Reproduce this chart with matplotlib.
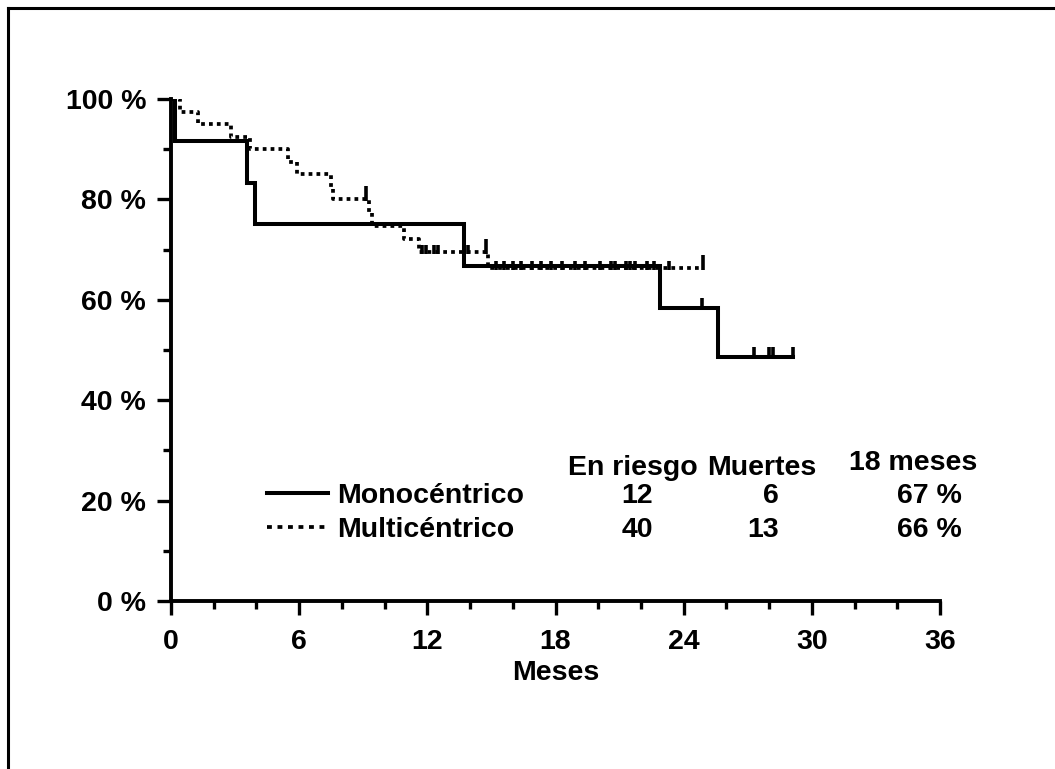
import matplotlib
matplotlib.use("Agg")
import matplotlib.pyplot as plt
from matplotlib.lines import Line2D
import numpy as np

plt.rcParams['font.family'] = ['Liberation Sans', 'DejaVu Sans']
plt.rcParams['font.weight'] = 'bold'

# Monocéntrico (n=12): step times (months) and survival (%)
mono_t = [0, 0.2, 3.55, 3.95, 13.7, 22.9, 25.6]
mono_s = [100, 91.7, 83.3, 75.0, 66.7, 58.3, 48.6]
mono_end = 29.1
mono_cens = [24.85, 27.3, 28.0, 28.2, 29.1]

# Multicéntrico (n=40)
multi_t = [0, 0.4, 1.25, 2.8, 3.7, 5.5, 5.9, 7.5, 7.6, 9.25, 9.4, 10.9, 11.6, 14.85]
multi_s = [100, 97.5, 95.0, 92.5, 90.0, 87.5, 85.0, 82.5, 80.0, 77.4, 74.8, 72.2, 69.6, 66.3]
multi_end = 24.9
multi_cens = [9.15, 11.75, 11.95, 12.3, 12.5, 13.9, 14.75,
              15.2, 15.6, 16.0, 16.4, 16.9, 17.3, 17.8, 18.3, 18.9, 19.4,
              20.1, 20.6, 20.8, 21.3, 21.5, 21.7, 22.3, 22.6, 23.3, 24.9]

# table
groups = ['Monocéntrico', 'Multicéntrico']
en_riesgo = ['12', '40']
muertes = ['6', '13']
surv18 = ['67 %', '66 %']

yticks = [0, 20, 40, 60, 80, 100]
xticks = [0, 6, 12, 18, 24, 30, 36]


def level_at(t, times, surv):
    idx = np.searchsorted(times, t, side='right') - 1
    return surv[idx]


W, H = 1055, 769
fig = plt.figure(figsize=(W / 100, H / 100), dpi=100)
ax = fig.add_axes([171 / W, (H - 601) / H, 769 / W, 502 / H])

# frame lines of the original slide (left and top only)
fig.add_artist(Line2D([8 / W, 8 / W], [0, 1 - 8 / H], color='black', lw=2.2, transform=fig.transFigure))
fig.add_artist(Line2D([8 / W, 1], [1 - 8 / H, 1 - 8 / H], color='black', lw=2.2, transform=fig.transFigure))

lw = 2.9
ax.step(mono_t + [mono_end], mono_s + [mono_s[-1]], where='post', color='black', lw=lw,
        solid_joinstyle='miter')
ax.step(multi_t + [multi_end], multi_s + [multi_s[-1]], where='post', color='black', lw=2.7,
        linestyle=(0, (1.0, 1.1)))

for c in mono_cens:
    s = level_at(c, mono_t, mono_s)
    ax.vlines(c, s, s + 2.0, color='black', lw=2.6)
for c in multi_cens:
    s = level_at(c, multi_t, multi_s)
    h = 2.6 if c in (9.15, 14.75, 24.9) else 1.4
    ax.vlines(c, s - 0.4, s + h, color='black', lw=2.6)

ax.set_xlim(0, 36)
ax.set_ylim(0, 100)
ax.set_xticks(xticks)
ax.set_xticks(np.arange(0, 37, 2), minor=True)
ax.set_yticks(yticks)
ax.set_yticks(np.arange(0, 101, 10), minor=True)
ax.set_yticklabels([f'{v} %' for v in yticks])
ax.set_xticklabels([str(v) for v in xticks])
for sp in ['top', 'right']:
    ax.spines[sp].set_visible(False)
for sp in ['left', 'bottom']:
    ax.spines[sp].set_linewidth(2.8)
fs = 20.5
ax.tick_params(which='major', length=10, width=2.4, labelsize=fs, pad=8)
ax.tick_params(which='minor', length=6, width=2.4)
ax.tick_params(axis='x', which='major', pad=10)
ax.set_xlabel('Meses', fontsize=fs, fontweight='bold', labelpad=4)
for lab in ax.get_xticklabels() + ax.get_yticklabels():
    lab.set_fontweight('bold')


def dx(px):
    return (px - 171) / (769 / 36)


def dy(py):
    return (601 - py) / (502 / 100)


# legend
ax.plot([dx(267), dx(328)], [dy(493), dy(493)], color='black', lw=lw, clip_on=False)
ax.plot([dx(267), dx(328)], [dy(527), dy(527)], color='black', lw=2.7,
        linestyle=(0, (1.3, 1.5)), clip_on=False)
rows_y = [dy(503), dy(537)]
for i, g in enumerate(groups):
    ax.text(dx(337), rows_y[i], g, fontsize=fs, fontweight='bold', va='baseline', ha='left')
    ax.text(dx(637), rows_y[i], en_riesgo[i], fontsize=fs, fontweight='bold', va='baseline', ha='center')
    ax.text(dx(779), rows_y[i], muertes[i], fontsize=fs, fontweight='bold', va='baseline', ha='right')
    ax.text(dx(962), rows_y[i], surv18[i], fontsize=fs, fontweight='bold', va='baseline', ha='right')

ax.text(dx(633), dy(475), 'En riesgo', fontsize=fs, fontweight='bold', va='baseline', ha='center')
ax.text(dx(762), dy(475), 'Muertes', fontsize=fs, fontweight='bold', va='baseline', ha='center')
ax.text(dx(913), dy(470), '18 meses', fontsize=fs, fontweight='bold', va='baseline', ha='center')

fig.savefig('out.png', dpi=100)
